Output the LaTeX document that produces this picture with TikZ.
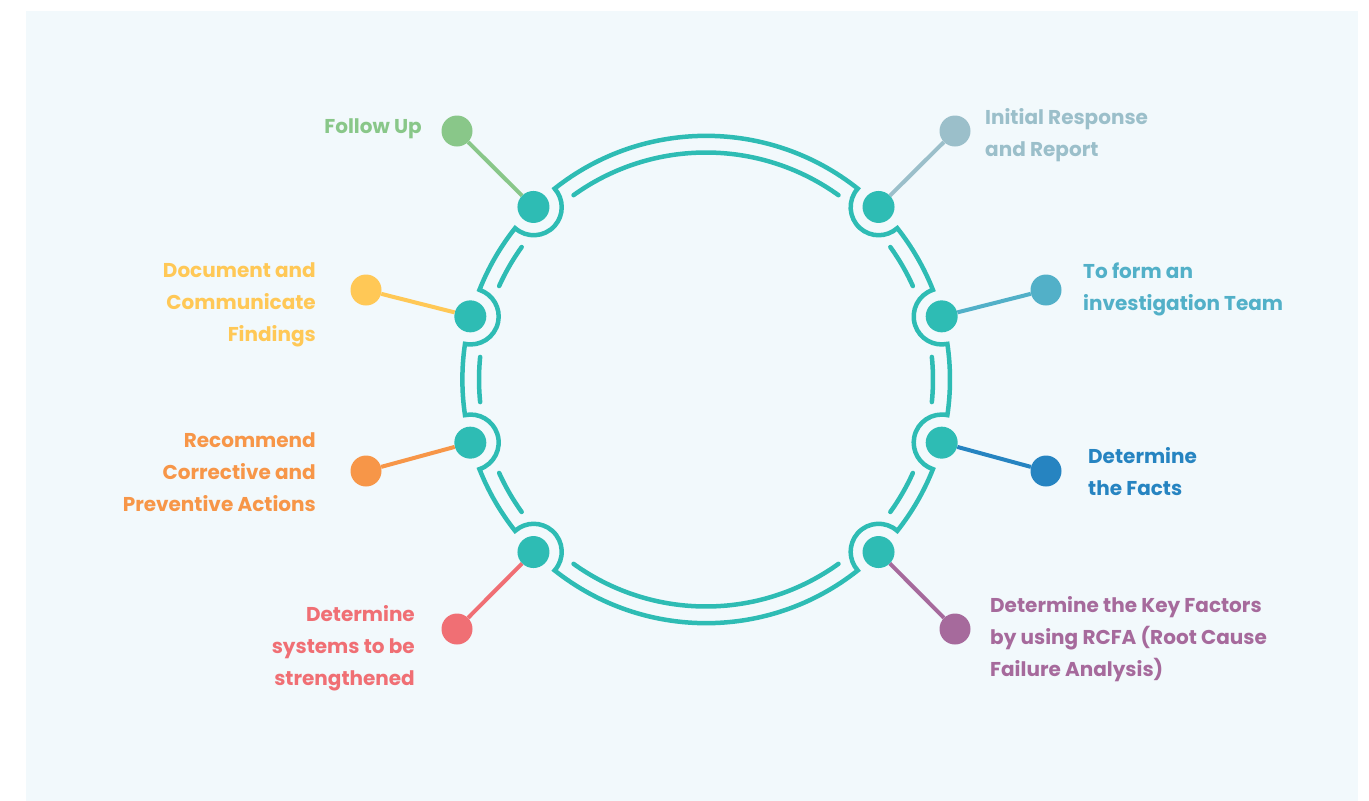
\documentclass[tikz,border=0pt]{standalone}
\usepackage{fontspec}
\setmainfont{Poppins}
\usepackage{tikz}
\usetikzlibrary{positioning,calc}
\definecolor{rteal}{RGB}{46,188,180}
\definecolor{rbg}{RGB}{242,249,252}
\definecolor{cgreen}{RGB}{137,199,137}
\definecolor{cslate}{RGB}{155,191,202}
\definecolor{csky}{RGB}{82,176,200}
\definecolor{cblue}{RGB}{38,132,193}
\definecolor{cplum}{RGB}{166,106,156}
\definecolor{ccoral}{RGB}{240,111,116}
\definecolor{corange}{RGB}{247,150,72}
\definecolor{cyellow}{RGB}{255,200,86}
\tikzset{
  hub/.style   ={circle, fill=rteal, inner sep=0pt, minimum size=32pt},
  tipdot/.style={circle, inner sep=0pt, minimum size=31pt},
  ring/.style  ={draw=rteal, line width=4.5pt, line cap=round},
  spoke/.style ={line width=4pt},
  lbl/.style   ={font=\fontsize{20}{32}\selectfont\bfseries, inner sep=0pt}
}
\begin{document}
\begin{tikzpicture}[x=1pt,y=-1pt]
\useasboundingbox (0,0) rectangle (1369,801);
\fill[rbg] (26,11) rectangle (1358,801);
\coordinate (c) at (706,379.5);

% outer line, bending round each hub on the inside
\draw[ring, line join=miter] (c) ++(-8.4:244)
  \foreach \p/\a in {-15/15,15/45,45/135,135/165,165/195,195/225,225/315,315/345}{
    arc[start angle=\p+6.6, end angle=\a-6.6, radius=244]
    arc[start angle=\a-93.3, end angle=\a-266.7, radius=28]
  } -- cycle;

% inner broken line
\foreach \p/\a in {-15/15,15/45,45/135,135/165,165/195,195/225,225/315,315/345}
  \draw[ring] (c) ++({\p+9.3}:227) arc[start angle=\p+9.3, end angle=\a-9.3, radius=227];

% hubs on the ring
\foreach \a [count=\i] in {-45,-15,15,45,135,165,195,225}
  \node[hub] (h\i) at ($(c)+(\a:244)$) {};

% outer dots
\foreach \i/\x/\y/\col in {1/955/131/cslate, 2/1046/290/csky, 3/1046/471/cblue,
    4/955/629/cplum, 5/457/629/ccoral, 6/366/471/corange, 7/366/290/cyellow,
    8/457/131/cgreen}{
  \node[tipdot, fill=\col] (d\i) at (\x,\y) {};
  \draw[spoke, draw=\col] (h\i) -- (d\i);
}

% labels
\node[lbl, text=cslate, align=left, anchor=west] (t1) at (985,135)
  {Initial Response\\and Report};
\node[lbl, text=csky, align=left, anchor=west] (t2) at (1083,289)
  {To form an\\investigation Team};
\node[lbl, text=cblue, align=left, anchor=west] (t3) at (1088,472)
  {Determine\\the Facts};
\node[lbl, text=cplum, align=left, anchor=west] (t4) at (990,639)
  {Determine the Key Factors\\by using RCFA (Root Cause\\Failure Analysis)};
\node[lbl, text=ccoral, align=right, anchor=east] (t5) at (415,648)
  {Determine\\systems to be\\strengthened};
\node[lbl, text=corange, align=right, anchor=east] (t6) at (316,472)
  {Recommend\\Corrective and\\Preventive Actions};
\node[lbl, text=cyellow, align=right, anchor=east] (t7) at (316,305)
  {Document and\\Communicate\\Findings};
\node[lbl, text=cgreen, align=right, anchor=east] (t8) at (422,129)
  {Follow Up};
\end{tikzpicture}
\end{document}
